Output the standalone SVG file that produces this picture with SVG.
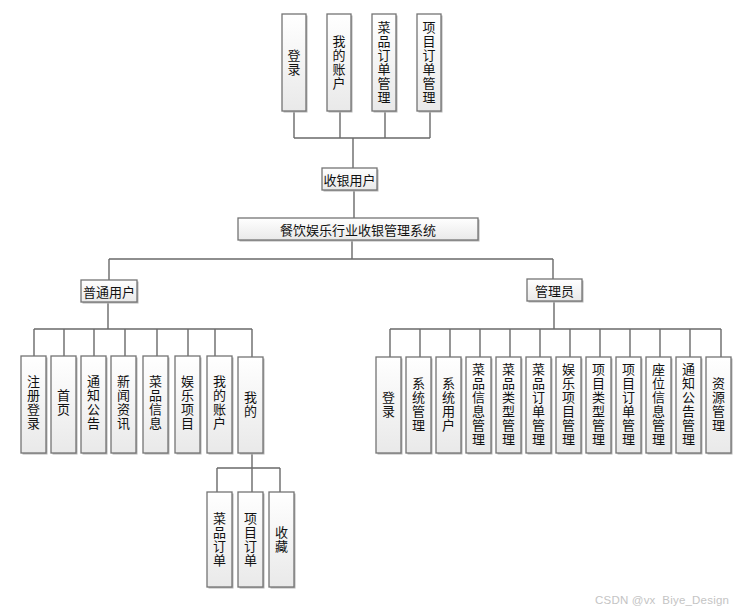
<svg xmlns="http://www.w3.org/2000/svg" width="745" height="612" viewBox="0 0 745 612">
<style>
.bx{fill:url(#g);stroke:#747474;stroke-width:1.3}
.sh{fill:#b4b4b4}
.ln{fill:none;stroke:#6a6a6a;stroke-width:1.4}
text{font-family:"Noto Sans CJK SC","Noto Sans",sans-serif;font-size:13px;fill:#111;text-anchor:middle;dominant-baseline:central}
.v{writing-mode:vertical-rl;letter-spacing:1px}
.wm{font-family:"Liberation Sans",sans-serif;font-size:11.5px;fill:#c4c4c4;text-anchor:start;letter-spacing:0.2px}
</style>
<defs>
<linearGradient id="g" x1="0" y1="0" x2="0" y2="1">
<stop offset="0" stop-color="#ffffff"/>
<stop offset="1" stop-color="#e9e9e9"/>
</linearGradient>
</defs>
<rect width="745" height="612" fill="#fff"/>
<g id="connectors">
<path class="ln" d="M294 111V138M340 111V138M385 111V138M430 111V138M294 138H430M353 138V168"/>
<path class="ln" d="M354 190V218M352 240V259M109 259H553M109 259V280M553 259V279"/>
<path class="ln" d="M108 302V329M34 329H252M34 329V356M64 329V356M94 329V356M125 329V356M157 329V356M188 329V356M215 329V356M252 329V357"/>
<path class="ln" d="M252 453V492M217 468H280M217 468V492M280 468V492"/>
<path class="ln" d="M554 301V329M390 329H721M390 329V357M420 329V357M450 329V357M480 329V357M510 329V357M540 329V357M570 329V357M600 329V357M630 329V357M660 329V357M690 329V357M721 329V357"/>
</g>
<g id="n_login_top"><rect class="sh" x="283.5" y="15.5" width="24" height="97"/><rect class="bx" x="282" y="14" width="24" height="97"/><text class="v" x="294" y="63">登录</text></g>
<g id="n_account_top"><rect class="sh" x="328.5" y="15.5" width="24" height="97"/><rect class="bx" x="327" y="14" width="24" height="97"/><text class="v" x="339" y="63">我的账户</text></g>
<g id="n_dishorder_top"><rect class="sh" x="373.5" y="15.5" width="24" height="97"/><rect class="bx" x="372" y="14" width="24" height="97"/><text class="v" x="384" y="63">菜品订单管理</text></g>
<g id="n_itemorder_top"><rect class="sh" x="418.5" y="15.5" width="24" height="97"/><rect class="bx" x="417" y="14" width="24" height="97"/><text class="v" x="429" y="63">项目订单管理</text></g>
<g id="n_cashier"><rect class="sh" x="323.5" y="169.5" width="55" height="22"/><rect class="bx" x="322" y="168" width="55" height="22"/><text x="349.5" y="179">收银用户</text></g>
<g id="n_system"><rect class="sh" x="239.5" y="219.5" width="240" height="22"/><rect class="bx" x="238" y="218" width="240" height="22"/><text x="358" y="229">餐饮娱乐行业收银管理系统</text></g>
<g id="n_user"><rect class="sh" x="82.5" y="281.5" width="56" height="22"/><rect class="bx" x="81" y="280" width="56" height="22"/><text x="109" y="291">普通用户</text></g>
<g id="n_admin"><rect class="sh" x="528.5" y="280.5" width="55" height="22"/><rect class="bx" x="527" y="279" width="55" height="22"/><text x="554.5" y="290">管理员</text></g>
<g id="u1"><rect class="sh" x="22.5" y="357.5" width="25" height="97"/><rect class="bx" x="21" y="356" width="25" height="97"/><text class="v" x="33.5" y="403">注册登录</text></g>
<g id="u2"><rect class="sh" x="52.5" y="357.5" width="25" height="97"/><rect class="bx" x="51" y="356" width="25" height="97"/><text class="v" x="63.5" y="403">首页</text></g>
<g id="u3"><rect class="sh" x="82.5" y="357.5" width="25" height="97"/><rect class="bx" x="81" y="356" width="25" height="97"/><text class="v" x="93.5" y="403">通知公告</text></g>
<g id="u4"><rect class="sh" x="112.5" y="357.5" width="25" height="97"/><rect class="bx" x="111" y="356" width="25" height="97"/><text class="v" x="123.5" y="403">新闻资讯</text></g>
<g id="u5"><rect class="sh" x="144.5" y="357.5" width="25" height="97"/><rect class="bx" x="143" y="356" width="25" height="97"/><text class="v" x="155.5" y="403">菜品信息</text></g>
<g id="u6"><rect class="sh" x="176.5" y="357.5" width="25" height="97"/><rect class="bx" x="175" y="356" width="25" height="97"/><text class="v" x="187.5" y="403">娱乐项目</text></g>
<g id="u7"><rect class="sh" x="208.5" y="357.5" width="25" height="97"/><rect class="bx" x="207" y="356" width="25" height="97"/><text class="v" x="219.5" y="403">我的账户</text></g>
<g id="u8"><rect class="sh" x="239.5" y="358.5" width="25" height="96"/><rect class="bx" x="238" y="357" width="25" height="96"/><text class="v" x="250.5" y="405">我的</text></g>
<g id="m1"><rect class="sh" x="208.5" y="493.5" width="25" height="95"/><rect class="bx" x="207" y="492" width="25" height="95"/><text class="v" x="219.5" y="540">菜品订单</text></g>
<g id="m2"><rect class="sh" x="239.5" y="493.5" width="25" height="95"/><rect class="bx" x="238" y="492" width="25" height="95"/><text class="v" x="250.5" y="540">项目订单</text></g>
<g id="m3"><rect class="sh" x="270.5" y="493.5" width="25" height="95"/><rect class="bx" x="269" y="492" width="25" height="95"/><text class="v" x="281.5" y="540">收藏</text></g>
<g id="a1"><rect class="sh" x="377.5" y="358.5" width="25" height="96"/><rect class="bx" x="376" y="357" width="25" height="96"/><text class="v" x="388.5" y="405">登录</text></g>
<g id="a2"><rect class="sh" x="407.5" y="358.5" width="25" height="96"/><rect class="bx" x="406" y="357" width="25" height="96"/><text class="v" x="418.5" y="405">系统管理</text></g>
<g id="a3"><rect class="sh" x="437.5" y="358.5" width="25" height="96"/><rect class="bx" x="436" y="357" width="25" height="96"/><text class="v" x="448.5" y="405">系统用户</text></g>
<g id="a4"><rect class="sh" x="467.5" y="358.5" width="25" height="96"/><rect class="bx" x="466" y="357" width="25" height="96"/><text class="v" x="478.5" y="405">菜品信息管理</text></g>
<g id="a5"><rect class="sh" x="497.5" y="358.5" width="25" height="96"/><rect class="bx" x="496" y="357" width="25" height="96"/><text class="v" x="508.5" y="405">菜品类型管理</text></g>
<g id="a6"><rect class="sh" x="527.5" y="358.5" width="25" height="96"/><rect class="bx" x="526" y="357" width="25" height="96"/><text class="v" x="538.5" y="405">菜品订单管理</text></g>
<g id="a7"><rect class="sh" x="557.5" y="358.5" width="25" height="96"/><rect class="bx" x="556" y="357" width="25" height="96"/><text class="v" x="568.5" y="405">娱乐项目管理</text></g>
<g id="a8"><rect class="sh" x="587.5" y="358.5" width="25" height="96"/><rect class="bx" x="586" y="357" width="25" height="96"/><text class="v" x="598.5" y="405">项目类型管理</text></g>
<g id="a9"><rect class="sh" x="617.5" y="358.5" width="25" height="96"/><rect class="bx" x="616" y="357" width="25" height="96"/><text class="v" x="628.5" y="405">项目订单管理</text></g>
<g id="a10"><rect class="sh" x="647.5" y="358.5" width="25" height="96"/><rect class="bx" x="646" y="357" width="25" height="96"/><text class="v" x="658.5" y="405">座位信息管理</text></g>
<g id="a11"><rect class="sh" x="677.5" y="358.5" width="25" height="96"/><rect class="bx" x="676" y="357" width="25" height="96"/><text class="v" x="688.5" y="405">通知公告管理</text></g>
<g id="a12"><rect class="sh" x="707.5" y="358.5" width="25" height="96"/><rect class="bx" x="706" y="357" width="25" height="96"/><text class="v" x="718.5" y="405">资源管理</text></g>
<text class="wm" x="595" y="600">CSDN @vx&#160; Biye_Design</text>
</svg>
